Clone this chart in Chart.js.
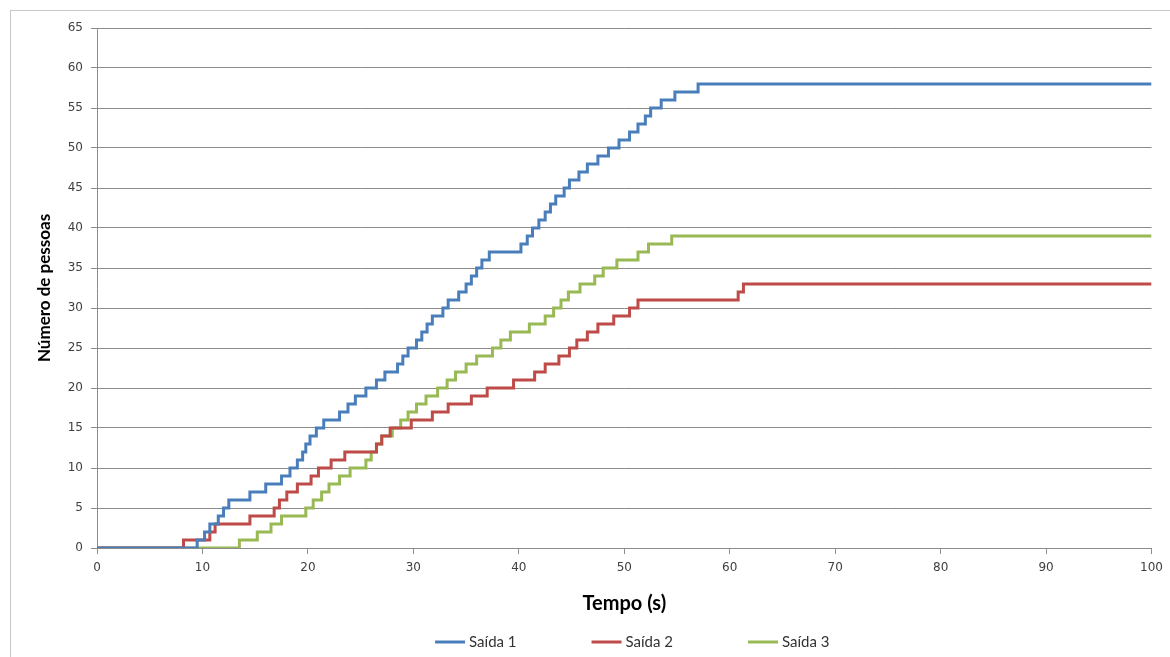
<!DOCTYPE html>
<html>
<head>
<meta charset="utf-8">
<script src="https://cdn.jsdelivr.net/npm/chart.js@4/dist/chart.umd.min.js"></script>
<style>
    html, body { margin: 0; padding: 0; background: #fff; overflow: hidden; }
    #wrap { position: relative; width: 1170px; height: 657px; }
    #frame { position: absolute; left: 10px; top: 10px; width: 1200px; height: 700px; border: 1px solid #c8c8c8; box-sizing: border-box; }
    canvas { position: absolute; left: 0; top: 0; }
</style>
</head>
<body>
<div id="wrap">
    <div id="frame"></div>
    <canvas id="myChart" width="1170" height="657"></canvas>
</div>
<script>
// instantes (s) em que a contagem muda, e a contagem correspondente
var seriesNames = ['Saída 1', 'Saída 2', 'Saída 3'];

var times1 = [0, 9.5, 10.2, 10.7, 11.5, 12, 12.5, 14.5, 16, 17.5, 18.3, 19, 19.5, 19.8, 20.2, 20.8, 21.5,
    23, 23.8, 24.5, 25.5, 26.5, 27.3, 28.5, 29, 29.5, 30.3, 30.8, 31.3, 31.8, 32.8, 33.3, 34.3, 35, 35.5,
    36, 36.5, 37.2, 40.2, 40.8, 41.3, 41.9, 42.5, 43, 43.5, 44.3, 44.8, 45.7, 46.5, 47.5, 48.5, 49.5, 50.5,
    51.3, 52, 52.5, 53.5, 54.8, 57, 100];
var counts1 = [0, 1, 2, 3, 4, 5, 6, 7, 8, 9, 10, 11, 12, 13, 14, 15, 16,
    17, 18, 19, 20, 21, 22, 23, 24, 25, 26, 27, 28, 29, 30, 31, 32, 33, 34,
    35, 36, 37, 38, 39, 40, 41, 42, 43, 44, 45, 46, 47, 48, 49, 50, 51, 52,
    53, 54, 55, 56, 57, 58, 58];

var times2 = [0, 8.2, 10.7, 11.2, 14.5, 16.8, 17.3, 18, 19, 20.3, 21, 22.2, 23.5, 26.5, 27, 27.8, 29.8,
    31.8, 33.3, 35.5, 37, 39.5, 41.5, 42.5, 43.8, 44.8, 45.5, 46.5, 47.5, 49, 50.5, 51.3, 60.8, 61.3, 100];
var counts2 = [0, 1, 2, 3, 4, 5, 6, 7, 8, 9, 10, 11, 12, 13, 14, 15, 16,
    17, 18, 19, 20, 21, 22, 23, 24, 25, 26, 27, 28, 29, 30, 31, 32, 33, 33];

var times3 = [0, 13.5, 15.2, 16.5, 17.5, 19.8, 20.5, 21.3, 22, 23, 24, 25.5, 26, 26.5, 27, 28, 28.8,
    29.5, 30.3, 31.2, 32.3, 33.2, 34, 35, 36, 37.5, 38.3, 39.2, 41, 42.5, 43.3, 44, 44.7, 45.8, 47.2,
    48, 49.3, 51.3, 52.3, 54.5, 100];
var counts3 = [0, 1, 2, 3, 4, 5, 6, 7, 8, 9, 10, 11, 12, 13, 14, 15, 16,
    17, 18, 19, 20, 21, 22, 23, 24, 25, 26, 27, 28, 29, 30, 31, 32, 33, 34,
    35, 36, 37, 38, 39, 39];

var xTicks = [0, 10, 20, 30, 40, 50, 60, 70, 80, 90, 100];
var yTicks = [0, 5, 10, 15, 20, 25, 30, 35, 40, 45, 50, 55, 60, 65];

var colors = ['#4a7ebb', '#be4b48', '#98b954'];

function toPoints(times, counts) {
    var pts = [];
    for (var i = 0; i < times.length; i++) {
        pts.push({ x: times[i], y: counts[i] });
    }
    return pts;
}

var allTimes = [times1, times2, times3];
var allCounts = [counts1, counts2, counts3];
var datasets = [];
for (var s = 0; s < 3; s++) {
    datasets.push({
        label: seriesNames[s],
        data: toPoints(allTimes[s], allCounts[s]),
        borderColor: colors[s],
        backgroundColor: colors[s],
        borderWidth: 3,
        pointRadius: 0,
        stepped: true,
        fill: false
    });
}

// legenda desenhada à mão, linha + texto, como no Excel
var bottomLegend = {
    id: 'bottomLegend',
    afterDraw: function (chart) {
        var c = chart.ctx;
        var area = chart.chartArea;
        var lineW = 30, gap = 4, spacing = 75;
        c.save();
        c.font = '15px Lato';
        c.textBaseline = 'middle';
        var widths = chart.data.datasets.map(function (d) { return lineW + gap + c.measureText(d.label).width; });
        var total = widths.reduce(function (a, b) { return a + b; }, 0) + spacing * (widths.length - 1);
        var x = (area.left + area.right) / 2 + 8 - total / 2;
        var y = 642;
        chart.data.datasets.forEach(function (d, i) {
            c.strokeStyle = d.borderColor;
            c.lineWidth = 3;
            c.beginPath();
            c.moveTo(x, y);
            c.lineTo(x + lineW, y);
            c.stroke();
            c.fillStyle = '#333';
            c.fillText(d.label, x + lineW + gap, y);
            x += widths[i] + spacing;
        });
        c.restore();
    }
};

var gridGray = '#8c8c8c';
var tickFont = { family: 'DejaVu Sans', size: 12 };

var ctx = document.getElementById('myChart').getContext('2d');
var myChart = new Chart(ctx, {
    type: 'line',
    data: { datasets: datasets },
    options: {
        responsive: false,
        animation: false,
        layout: { padding: { left: 10, right: 18, top: 28, bottom: 37 } },
        scales: {
            x: {
                type: 'linear',
                min: 0,
                max: 100,
                afterBuildTicks: function (scale) {
                    scale.ticks = xTicks.map(function (v) { return { value: v }; });
                },
                afterFit: function (scale) { scale.height = 72; },
                grid: { drawOnChartArea: false, color: gridGray, tickLength: 6 },
                border: { color: gridGray },
                ticks: { color: '#404040', font: tickFont, padding: 7, maxRotation: 0 },
                title: {
                    display: true,
                    text: 'Tempo (s)',
                    color: '#000',
                    font: { family: 'Lato', size: 20, weight: 'bold' },
                    padding: { top: 10 }
                }
            },
            y: {
                min: 0,
                max: 65,
                afterBuildTicks: function (scale) {
                    scale.ticks = yTicks.map(function (v) { return { value: v }; });
                },
                afterFit: function (scale) { scale.width = 87; },
                grid: { color: gridGray, tickLength: 6 },
                border: { color: gridGray },
                ticks: { color: '#404040', font: tickFont, padding: 8 },
                title: {
                    display: true,
                    text: 'Número de pessoas',
                    color: '#000',
                    font: { family: 'Lato', size: 17, weight: 'bold' },
                    padding: { top: 24, bottom: 8 }
                }
            }
        },
        plugins: {
            legend: { display: false },
            tooltip: { enabled: false }
        }
    },
    plugins: [bottomLegend]
});
</script>
</body>
</html>
